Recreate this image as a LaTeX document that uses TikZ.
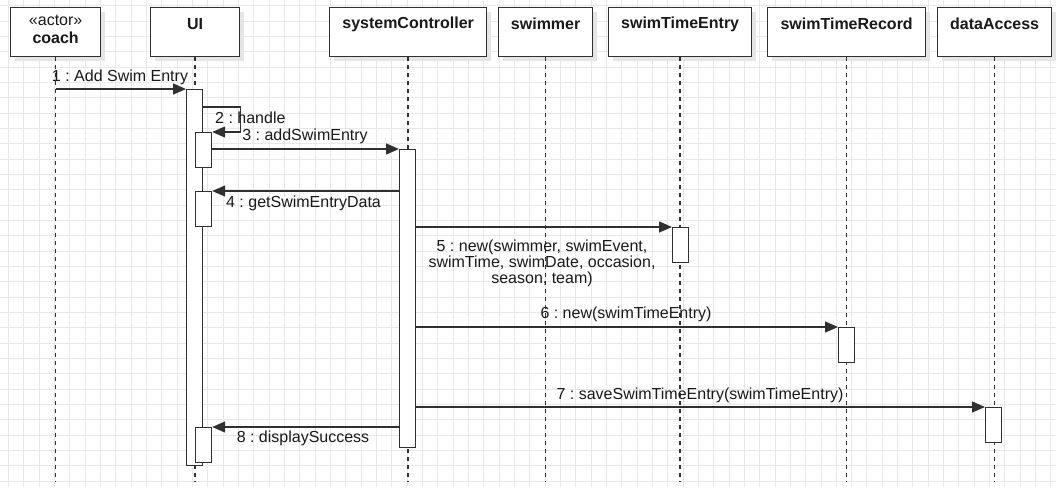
\documentclass[tikz,border=0pt]{standalone}
\usepackage{fontspec}
\setmainfont{Liberation Sans}
\usetikzlibrary{arrows.meta,calc,shadows}
\definecolor{ink}{HTML}{303030}
\definecolor{gridc}{HTML}{E8E8E8}
\frenchspacing
\begin{document}
\begin{tikzpicture}[x=1pt,y=-1pt,
  font=\fontsize{16}{18}\selectfont,
  headbox/.style={draw=ink, line width=1.3pt, fill=white, minimum height=49pt, inner sep=0pt, anchor=north west,
    drop shadow={shadow xshift=4pt, shadow yshift=-4pt, fill=black!10, opacity=1}},
  headtxt/.style={font=\fontsize{16}{18}\selectfont\bfseries, inner sep=0pt, text=black!90},
  act/.style={draw=ink, fill=white, line width=1.2pt, minimum width=16pt, inner sep=0pt, anchor=north west},
  life/.style={draw=ink, line width=1.5pt, dash pattern=on 4pt off 4pt},
  msg/.style={draw=ink, line width=1.4pt, -{Triangle[length=13pt,width=11pt]}},
  lbl/.style={inner sep=0pt, text=black!90}]
\useasboundingbox (0,0) rectangle (1056,487);
\fill[white] (0,0) rectangle (1056,487);
% grid
\foreach \i in {0,...,68} {\draw[gridc, line width=0.6pt] ({8.3+15.33*\i},0) -- ({8.3+15.33*\i},487);}
\foreach \j in {0,...,31} {\draw[gridc, line width=0.6pt] (0,{5.8+15.33*\j}) -- (1056,{5.8+15.33*\j});}
% headers
\node[headbox, minimum width=90pt] (coach) at (10,7) {};
\node[headbox, minimum width=89pt] (ui) at (150,7) {};
\node[headbox, minimum width=157pt] (sc) at (329,7) {};
\node[headbox, minimum width=94pt] (swimmer) at (498,7) {};
\node[headbox, minimum width=143pt] (ste) at (608,7) {};
\node[headbox, minimum width=158pt] (str) at (767,7) {};
\node[headbox, minimum width=114pt] (da) at (937,7) {};
\node[inner sep=0pt, text=black!90] (coachS) at (coach.center |- 0,20) {«actor»};
\node[headtxt] (coachT) at (coach.center |- 0,38) {coach};
\node[headtxt] (uiT) at (ui.center |- 0,24) {UI};
\node[headtxt] (scT) at (sc.center |- 0,24) {systemController};
\node[headtxt] (swimmerT) at (swimmer.center |- 0,24) {swimmer};
\node[headtxt] (steT) at (ste.center |- 0,24) {swimTimeEntry};
\node[headtxt] (strT) at (str.center |- 0,24) {swimTimeRecord};
\node[headtxt] (daT) at (da.center |- 0,24) {dataAccess};
% lifelines
\coordinate (bot) at (0,482);
\foreach \n in {coach,ui,sc,swimmer,ste,str,da} {\draw[life] (\n.south) -- (\n.south |- bot);}
% activations
\node[act, minimum height=376pt] (uiMain) at (186,89) {};
\node[act, minimum height=35pt] (uiA2) at (195,132) {};
\node[act, minimum height=35pt] (uiA3) at (195,191) {};
\node[act, minimum height=35pt] (uiA4) at (195,427) {};
\node[act, minimum height=298pt] (scA) at (399,149) {};
\node[act, minimum height=35pt] (steA) at (672,227) {};
\node[act, minimum height=35pt] (strA) at (838,327) {};
\node[act, minimum height=35pt] (daA) at (985,407) {};
% messages
\draw[msg] (coach.south |- uiMain.north) -- (uiMain.north west);
\draw[msg] (uiMain.east |- 0,107) -- ++(37,0) |- (uiA2.north east);
\draw[msg] (uiA2.east |- scA.north) -- (scA.north west);
\draw[msg] (scA.west |- uiA3.north) -- (uiA3.north east);
\draw[msg] (scA.east |- steA.north) -- (steA.north west);
\draw[msg] (scA.east |- strA.north) -- (strA.north west);
\draw[msg] (scA.east |- daA.north) -- (daA.north west);
\draw[msg] (scA.west |- uiA4.north) -- (uiA4.north east);
% labels
\node[lbl] (l1) at (120,77) {1 : Add Swim Entry};
\node[lbl, anchor=west] (l2) at (215,118) {2 : handle};
\node[lbl] (l3) at (305,136) {3 : addSwimEntry};
\node[lbl] (l4) at (303.5,203) {4 : getSwimEntryData};
\node[lbl, align=center, font=\fontsize{16}{16}\selectfont] (l5) at (542,263) {5 : new(swimmer, swimEvent,\\swimTime, swimDate, occasion,\\season, team)};
\node[lbl] (l6) at (626,314) {6 : new(swimTimeEntry)};
\node[lbl] (l7) at (700,395) {7 : saveSwimTimeEntry(swimTimeEntry)};
\node[lbl] (l8) at (303,438) {8 : displaySuccess};
\end{tikzpicture}
\end{document}
